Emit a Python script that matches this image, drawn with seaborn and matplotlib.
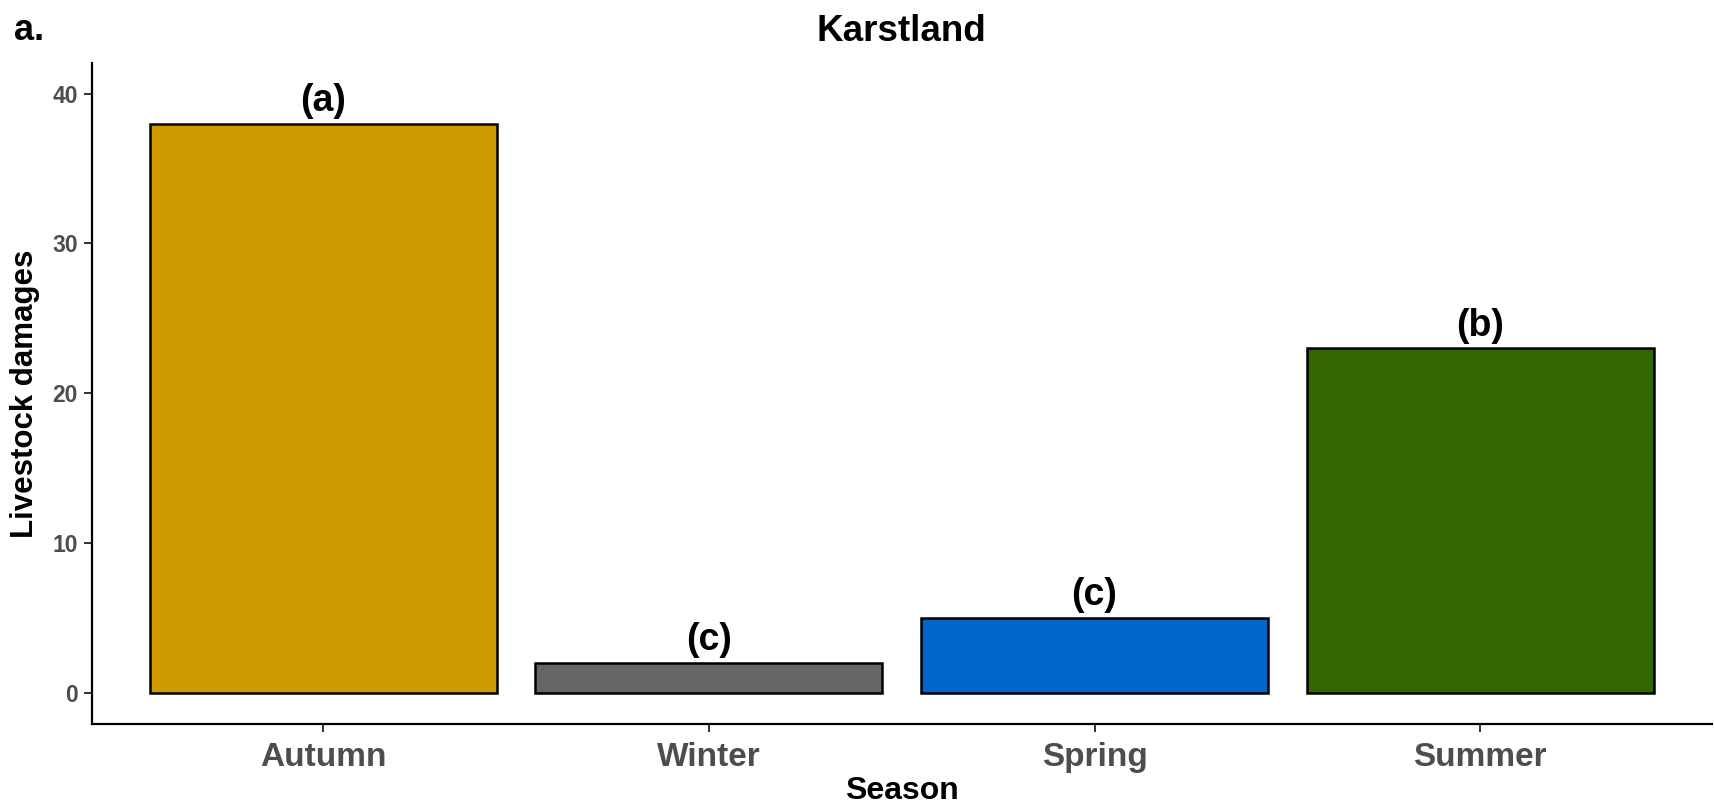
import matplotlib
matplotlib.use("Agg")
import matplotlib.pyplot as plt
import pandas as pd
import seaborn as sns

seasons = ["Autumn", "Winter", "Spring", "Summer"]
damages = [38, 2, 5, 23]
letters = ["(a)", "(c)", "(c)", "(b)"]
colors = ["#CC9900", "#666666", "#0066CC", "#336600"]

df = pd.DataFrame({"Season": seasons, "Damages": damages})

sns.set_style("ticks")
plt.rcParams["font.family"] = ["Liberation Sans", "DejaVu Sans"]

fig = plt.figure(figsize=(17.15, 8.05), dpi=100)
ax = fig.add_axes([0.0536, 0.1006, 0.9444, 0.8214])

sns.barplot(data=df, x="Season", y="Damages", hue="Season", palette=colors,
            width=0.9, edgecolor="black", linewidth=1.8, saturation=1,
            legend=False, ax=ax)

for i, (v, lab) in enumerate(zip(damages, letters)):
    ax.text(i, v + 0.3, lab, ha="center", va="bottom",
            fontsize=27, fontweight="bold", color="black")

ax.set_xlim(-0.6, 3.6)
ax.set_ylim(-2.1, 42.06)
ax.set_yticks([0, 10, 20, 30, 40])

sns.despine(ax=ax)
for s in ["left", "bottom"]:
    ax.spines[s].set_linewidth(1.6)
    ax.spines[s].set_color("black")

ax.tick_params(axis="both", length=6, width=1.4, color="#333333")
ax.tick_params(axis="y", labelsize=16.5, labelcolor="#4D4D4D", pad=4)
ax.tick_params(axis="x", labelsize=24, labelcolor="#4D4D4D", pad=7)
for t in ax.get_xticklabels() + ax.get_yticklabels():
    t.set_fontweight("bold")

ax.set_xlabel("Season", fontsize=23, fontweight="bold", color="black", labelpad=2)
ax.set_ylabel("Livestock damages", fontsize=22.5, fontweight="bold",
              color="black", labelpad=9)
ax.set_title("Karstland", fontsize=26.5, fontweight="bold", color="black", pad=16)

fig.text(0.008, 0.95, "a.", fontsize=26, fontweight="bold", color="black", ha="left")

fig.savefig("out.png", dpi=100)
